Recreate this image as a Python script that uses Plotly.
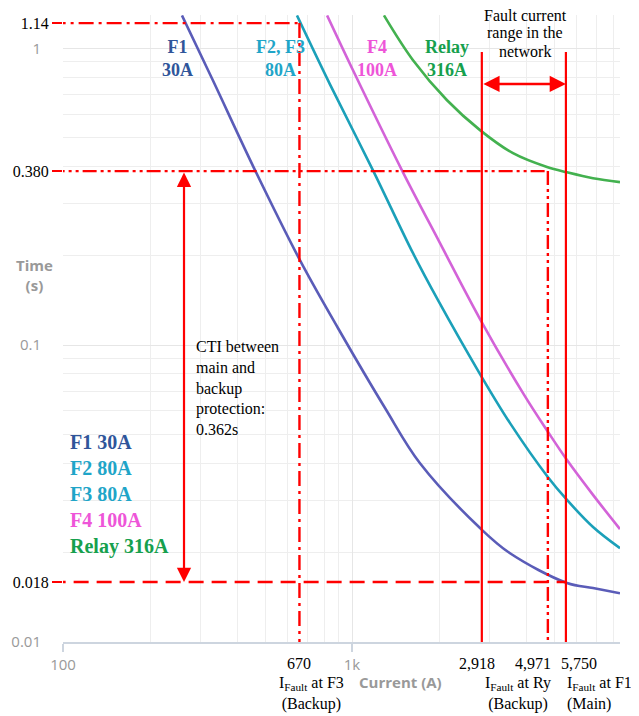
import math
import plotly.graph_objects as go

# ---------------- data ----------------
f1_current = [258, 330, 462, 661, 895, 1301, 1719, 2773, 3522, 5545, 6822, 8458]
f1_time = [1.29, 0.780, 0.388, 0.193, 0.114, 0.0614, 0.0400, 0.0242, 0.0199, 0.0158, 0.0152, 0.0146]

f23_current = [645, 839, 1182, 1626, 1984, 2773, 3522, 4766, 5545, 6822, 8458]
f23_time = [1.29, 0.756, 0.388, 0.204, 0.1417, 0.0799, 0.0546, 0.0359, 0.0301, 0.0244, 0.0207]

f4_current = [820, 1008, 1489, 2016, 2773, 3906, 4766, 5545, 6822, 8458]
f4_time = [1.29, 0.843, 0.388, 0.2205, 0.1224, 0.0689, 0.0510, 0.0410, 0.0313, 0.0240]

relay_current = [1290, 1626, 2132, 2773, 3607, 4728, 5545, 6822, 8458]
relay_time = [1.29, 0.911, 0.668, 0.530, 0.443, 0.398, 0.382, 0.365, 0.354]

# fault currents / times marked on the chart
i_fault_f3 = 670
i_fault_ry_low = 2918
i_fault_ry = 4971
i_fault_f1 = 5750
t_backup_max = 1.14
t_relay = 0.380
t_main = 0.018
cti_arrow_current = 264   # where the CTI arrow is drawn
range_line_top = 0.92     # top of the two "fault current range" markers
x_beyond_left = 90        # lines run off the left edge
y_beyond_bottom = 0.005   # lines run off the bottom edge

x_tickvals = [100, 1000]
x_ticktext = ["100", "1k"]
y_tickvals = [0.01, 0.1, 1]
y_ticktext = ["0.01", "0.1", "1"]
x_minor = [200, 300, 400, 500, 600, 700, 800, 900, 2000, 3000, 4000, 5000, 6000, 7000, 8000, 9000]
y_minor = [0.02, 0.03, 0.04, 0.05, 0.06, 0.07, 0.08, 0.09, 0.2, 0.3, 0.4, 0.5, 0.6, 0.7, 0.8, 0.9]
overlay_y_vals = [t_backup_max, t_relay, t_main]
overlay_y_text = ["1.14", "0.380", "0.018"]

# ---------------- styles ----------------
C_F1 = "#5a5cb8"
C_F23 = "#1ba0b9"
C_F4 = "#d363d8"
C_RELAY = "#43b14f"
T_F1 = "#2f559a"
T_F23 = "#1fa5c8"
T_F4 = "#ee55d8"
T_RELAY = "#16a04d"
RED = "#ff0000"
SERIF = "Liberation Serif"
SANS = "Open Sans"
GRAY = "#999999"

L = math.log10

fig = go.Figure()

for xs, ys, col in [(f1_current, f1_time, C_F1), (f23_current, f23_time, C_F23),
                    (f4_current, f4_time, C_F4), (relay_current, relay_time, C_RELAY)]:
    fig.add_trace(go.Scatter(x=xs, y=ys, mode="lines", line=dict(color=col, width=2.6, shape="spline", smoothing=1.0),
                             hoverinfo="skip"))

DASHDOT = "15px,5px,3px,5px"
DASHDOTDOT = "14px,4px,3px,4px,3px,4px"
DASH = "15px,8px"

def ov(x, y, dash, width=2.4):
    fig.add_trace(go.Scatter(x=x, y=y, mode="lines", xaxis="x2", yaxis="y2",
                             line=dict(color=RED, width=width, dash=dash), hoverinfo="skip"))

# horizontal markers
ov([x_beyond_left, i_fault_f3], [t_backup_max, t_backup_max], DASHDOT)
ov([x_beyond_left, i_fault_ry], [t_relay, t_relay], DASHDOTDOT)
ov([x_beyond_left, i_fault_f1], [t_main, t_main], DASH)
# vertical markers
ov([i_fault_f3, i_fault_f3], [t_backup_max, y_beyond_bottom], DASHDOT)
ov([i_fault_ry, i_fault_ry], [t_relay, y_beyond_bottom], DASHDOTDOT)
ov([i_fault_ry_low, i_fault_ry_low], [range_line_top, y_beyond_bottom], "solid", 2.2)
ov([i_fault_f1, i_fault_f1], [range_line_top, y_beyond_bottom], "solid", 2.2)

ann = []
# double arrow for fault current range
ann.append(dict(x=L(i_fault_f1), xref="x2", y=0.890, yref="paper", ax=L(i_fault_ry_low), axref="x2",
                ay=0, ayref="pixel",
                text="", showarrow=True, arrowhead=2, startarrowhead=2, arrowside="end+start", arrowsize=1.3,
                startarrowsize=1.3, arrowwidth=2.5, arrowcolor=RED, standoff=0, startstandoff=0))
# CTI vertical double arrow
ann.append(dict(x=L(cti_arrow_current), xref="x2", y=L(t_main), yref="y2",
                ax=L(cti_arrow_current), axref="x2", ay=L(t_relay), ayref="y2",
                text="", showarrow=True, arrowhead=2, startarrowhead=2, arrowside="end+start", arrowsize=1.3,
                startarrowsize=1.3, arrowwidth=2.2, arrowcolor=RED, standoff=0, startstandoff=0))

def txt(x, y, text, size=16, color="black", family=SERIF, xanchor="center", yanchor="middle", align="center",
        bold=False, xref="paper", xshift=0):
    ann.append(dict(x=x, y=y, xref=xref, yref="paper", text=text, showarrow=False, xanchor=xanchor,
                    yanchor=yanchor, align=align, xshift=xshift,
                    font=dict(family=family, size=size, color=color, weight="bold" if bold else "normal")))

# curve labels at the top
txt(0.2047, 0.9314, "F1<br>30A", 18, T_F1, bold=True)
txt(0.3896, 0.9314, "F2, F3<br>80A", 18, T_F23, bold=True)
txt(0.5637, 0.9314, "F4<br>100A", 18, T_F4, bold=True)
txt(0.6894, 0.9314, "Relay<br>316A", 18, T_RELAY, bold=True)
for yy, line in [(0.9990, "Fault current"), (0.9713, "range in the"), (0.9410, "network")]:
    txt(0.8295, yy, line, 16)

# CTI text
txt(0.2352, 0.4051, "CTI between<br>main and<br>backup<br>protection:<br>0.362s", 16, xanchor="left", align="left")

# legend-like block
legend_txt = ("<span style='color:%s'>F1 30A</span><br><span style='color:%s'>F2 80A</span><br>"
              "<span style='color:%s'>F3 80A</span><br><span style='color:%s'>F4 100A</span><br>"
              "<span style='color:%s'>Relay 316A</span>") % (T_F1, T_F23, T_F23, T_F4, T_RELAY)
txt(0.009, 0.236, legend_txt, 20, xanchor="left", align="left", bold=True)

# axis titles
txt(-0.052, 0.5853, "Time<br>(s)", 15, GRAY, SANS, bold=True)
txt(0.6068, -0.0638, "Current (A)", 15, GRAY, SANS, bold=True)

# fault-current labels below the x axis
txt(L(i_fault_f3), -0.0335, "670", xref="x2")
txt(L(i_fault_ry_low), -0.0335, "2,918", xref="x2", xshift=-5)
txt(L(i_fault_ry), -0.0335, "4,971", xref="x2", xshift=-15)
txt(L(i_fault_f1), -0.0335, "5,750", xref="x2", xshift=13)
txt(L(i_fault_f3), -0.0829, "I<sub>Fault</sub> at F3<br>(Backup)", xref="x2", xshift=12)
txt(L(i_fault_ry_low), -0.0829, "I<sub>Fault</sub> at Ry<br>(Backup)", xref="x2", xshift=36)
txt(L(i_fault_f1), -0.0829, "I<sub>Fault</sub> at F1<br>(Main)", xref="x2", xanchor="left", align="left", xshift=-1)

fig.update_layout(
    width=639, height=716,
    margin=dict(l=55, r=27, t=7, b=82),
    plot_bgcolor="white", paper_bgcolor="white",
    showlegend=False,
    annotations=ann,
    xaxis=dict(type="log", range=[2, 3.9273], tickvals=x_tickvals, ticktext=x_ticktext,
               showgrid=True, gridcolor="#e6e6e6", gridwidth=1,
               minor=dict(tickvals=x_minor, showgrid=True, gridcolor="#eeeeee", ticks=""),
               showline=True, linecolor="#cdd5df", linewidth=1.5, ticks="outside", ticklen=8,
               tickcolor="#cdd5df", tickwidth=1.5, zeroline=False, automargin=False,
               tickfont=dict(family=SANS, size=15, color=GRAY)),
    yaxis=dict(type="log", range=[-2, 0.112], tickvals=y_tickvals, ticktext=y_ticktext,
               showgrid=True, gridcolor="#e6e6e6", gridwidth=1,
               minor=dict(tickvals=y_minor, showgrid=True, gridcolor="#eeeeee", ticks=""),
               showline=False, ticks="outside", ticklen=18, tickcolor="rgba(0,0,0,0)",
               zeroline=False, automargin=False,
               tickfont=dict(family=SANS, size=15, color=GRAY)),
    xaxis2=dict(type="log", overlaying="x", range=[1.9976, 3.9492], visible=False),
    yaxis2=dict(type="log", overlaying="y", side="left", anchor="x", range=[-1.938, 0.083],
                tickvals=overlay_y_vals, ticktext=overlay_y_text, showgrid=False, zeroline=False,
                showline=False, ticks="outside", ticklen=10, tickwidth=2, tickcolor=RED, automargin=False,
                tickfont=dict(family=SERIF, size=16, color="black")),
)

fig.write_html("out.html")
